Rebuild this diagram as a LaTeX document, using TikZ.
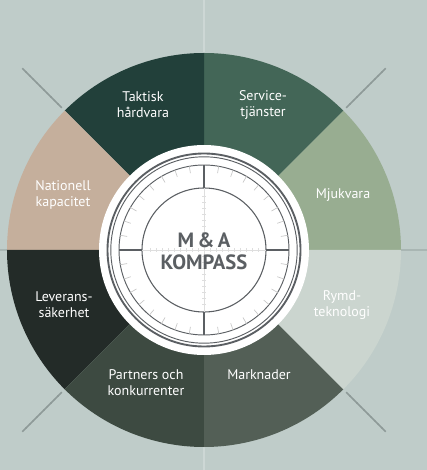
\documentclass[tikz,border=0pt]{standalone}
\usepackage{fontspec}
\setmainfont{PT Sans}
\definecolor{bgcol}{HTML}{BFCCC9}
\definecolor{foldcol}{HTML}{8E9A98}
\definecolor{taktisk}{HTML}{22403A}
\definecolor{service}{HTML}{436657}
\definecolor{mjuk}{HTML}{98AD91}
\definecolor{rymd}{HTML}{CBD5CF}
\definecolor{marknad}{HTML}{535F56}
\definecolor{partner}{HTML}{3D4A41}
\definecolor{leverans}{HTML}{232B28}
\definecolor{nationell}{HTML}{C5AF9C}
\definecolor{ringgray}{HTML}{5B5F63}
\tikzset{
  sectorlabel/.style={text=white, align=center, font=\fontsize{10.5}{12}\selectfont},
  titlelabel/.style={text=ringgray, align=center, font=\fontsize{15.5}{16.5}\selectfont\bfseries},
  hairline/.style={draw=black!13, line width=0.5pt},
}
\begin{document}
\begin{tikzpicture}[x=0.75pt,y=0.75pt]
  \fill[bgcol] (-204,-220) rectangle (223,250);
  \useasboundingbox (-204,-220) rectangle (223,250);
  % folds running out of the wheel
  \foreach \a in {45,135,225,315}
    \foreach \i [evaluate=\i as \op using 0.45-\i/26] in {0,...,11}
      \draw[foldcol, opacity=\op, line width=1.2] ({\a}:{196+5*\i}) -- ({\a}:{202+5*\i});
  \draw[white!22!bgcol, line width=0.8] (0,197) -- (0,250);
  \draw[white!22!bgcol, line width=0.8] (0,-197) -- (0,-220);
  \draw[foldcol!45!bgcol, line width=0.8] (-197,0) -- (-204,0);
  \draw[foldcol!45!bgcol, line width=0.8] (197,0) -- (223,0);
  % sectors of the wheel
  \foreach \start/\col in {0/mjuk,45/service,90/taktisk,135/nationell,180/leverans,225/partner,270/marknad,315/rymd}
    \fill[\col] (0,0) -- (\start:197) arc[start angle=\start, delta angle=45, radius=197] -- cycle;
  \node[sectorlabel] (taktisk) at (-61,145) {Taktisk\\hårdvara};
  \node[sectorlabel] (service) at (59,145) {Service-\\tjänster};
  \node[sectorlabel] (mjukvara) at (139,55) {Mjukvara};
  \node[sectorlabel] (rymd) at (138,-55) {Rymd-\\teknologi};
  \node[sectorlabel] (marknader) at (55,-125) {Marknader};
  \node[sectorlabel] (partners) at (-58,-133) {Partners och\\konkurrenter};
  \node[sectorlabel] (leverans) at (-140,-55) {Leverans-\\säkerhet};
  \node[sectorlabel] (nationell) at (-141,55) {Nationell\\kapacitet};
  % compass in the middle
  \fill[white] (0,0) circle[radius=105];
  \draw[ringgray, line width=1.4] (0,0) circle[radius=96.5];
  \draw[ringgray, line width=0.7] (0,0) circle[radius=93.2];
  \draw[ringgray, line width=0.7] (0,0) circle[radius=85];
  \draw[ringgray, line width=0.8] (0,0) circle[radius=62];
  \foreach \a in {0,10,...,350}
    \draw[black!22, line width=0.5] (\a:85) -- (\a:78);
  \foreach \a in {0,90,180,270}
    \draw[ringgray, line width=0.9] (\a:62) -- (\a:85);
  \draw[hairline] (-62,0) -- (62,0);
  \draw[hairline] (0,-62) -- (0,62);
  \foreach \t in {-54,-48,...,54} {
    \draw[hairline] (\t,-2) -- (\t,2);
    \draw[hairline] (-2,\t) -- (2,\t);
  }
  \node[titlelabel] (kompass) at (0,-1) {M\,\&\,A\\KOMPASS};
\end{tikzpicture}
\end{document}
